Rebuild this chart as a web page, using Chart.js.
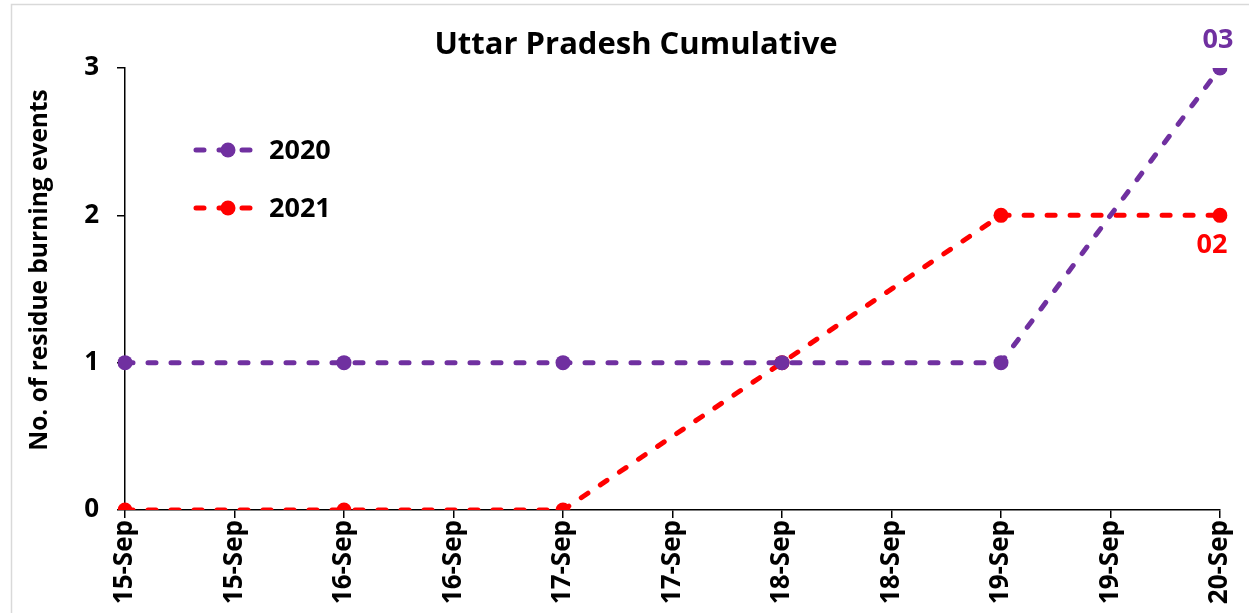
<!DOCTYPE html>
<html>
<head>
<meta charset="utf-8">
<script src="https://cdn.jsdelivr.net/npm/chart.js@4.4.0/dist/chart.umd.min.js"></script>
<style>
  html, body { margin: 0; padding: 0; background: #fff; }
  #wrap { position: relative; width: 1249px; height: 613px; }
</style>
</head>
<body>
<div id="wrap"><canvas id="upChart" width="1249" height="613"></canvas></div>
<script>
// Uttar Pradesh cumulative residue burning events
const dateLabels = ['15-Sep', '15-Sep', '16-Sep', '16-Sep', '17-Sep', '17-Sep', '18-Sep', '18-Sep', '19-Sep', '19-Sep', '20-Sep'];
const values2020 = [1, null, 1, null, 1, null, 1, null, 1, null, 3];
const values2021 = [0, null, 0, null, 0, null, 1, null, 2, null, 2];
const yTicks = [0, 1, 2, 3];
const endLabels = { '2020': '03', '2021': '02' };
const chartTitle = 'Uttar Pradesh Cumulative';
const yTitle = 'No. of residue burning events';

const PURPLE = '#7030A0';
const RED = '#FF0000';
const FONT = '"Open Sans", Lato, sans-serif';

const frameAndLegend = {
    id: 'frameAndLegend',
    beforeDraw(chart) {
        const ctx = chart.ctx;
        ctx.save();
        ctx.strokeStyle = '#d9d9d9';
        ctx.lineWidth = 1.5;
        ctx.strokeRect(11.5, 4.5, 1400, 800);
        // title
        ctx.fillStyle = '#000';
        ctx.font = 'bold 31px ' + FONT;
        ctx.textAlign = 'center';
        ctx.textBaseline = 'middle';
        ctx.fillText(chartTitle, 636, 45);
        // y axis title
        ctx.translate(40, 270);
        ctx.rotate(-Math.PI / 2);
        ctx.font = 'bold 24.5px ' + FONT;
        ctx.fillText(yTitle, 0, 0);
        ctx.restore();
    },
    afterDatasetsDraw(chart) {
        const ctx = chart.ctx;
        ctx.save();
        // legend inside plot
        chart.data.datasets.forEach((ds, i) => {
            const y = 150 + i * 58;
            ctx.strokeStyle = ds.borderColor;
            ctx.lineWidth = 5;
            ctx.lineCap = 'round';
            ctx.setLineDash([8, 15]);
            ctx.beginPath();
            ctx.moveTo(196, y);
            ctx.lineTo(258, y);
            ctx.stroke();
            ctx.setLineDash([]);
            ctx.fillStyle = ds.borderColor;
            ctx.beginPath();
            ctx.arc(228, y, 7.5, 0, Math.PI * 2);
            ctx.fill();
            ctx.fillStyle = '#000';
            ctx.font = 'bold 27px ' + FONT;
            ctx.textAlign = 'left';
            ctx.textBaseline = 'middle';
            ctx.fillText(ds.label, 269, y + 1);
        });
        // end value labels
        chart.data.datasets.forEach((ds, i) => {
            const meta = chart.getDatasetMeta(i);
            const pt = meta.data[meta.data.length - 1];
            const txt = endLabels[ds.label];
            if (!pt || !txt) return;
            ctx.fillStyle = ds.borderColor;
            ctx.font = 'bold 27px ' + FONT;
            ctx.textAlign = 'center';
            ctx.textBaseline = 'middle';
            const dy = ds.label === '2020' ? -28 : 30;
            ctx.fillText(txt, pt.x - (ds.label === '2020' ? 2 : 8), pt.y + dy);
        });
        ctx.restore();
    }
};

function makeSeries(label, data, color) {
    return {
        label: label,
        data: data,
        borderColor: color,
        backgroundColor: color,
        borderWidth: 5,
        borderDash: [8, 15],
        borderCapStyle: 'round',
        pointRadius: 7.5,
        pointHoverRadius: 7.5,
        pointBackgroundColor: color,
        pointBorderWidth: 0,
        spanGaps: true,
        tension: 0
    };
}

new Chart(document.getElementById('upChart').getContext('2d'), {
    type: 'line',
    data: {
        labels: dateLabels,
        datasets: [
            makeSeries('2020', values2020, PURPLE),
            makeSeries('2021', values2021, RED)
        ]
    },
    options: {
        responsive: false,
        animation: false,
        layout: { autoPadding: false, padding: { left: 0, right: 29, top: 68, bottom: 0 } },
        plugins: {
            legend: { display: false },
            tooltip: { enabled: false },
            title: { display: false }
        },
        scales: {
            x: {
                offset: false,
                border: { display: true, color: '#000', width: 1.5 },
                grid: { display: true, drawOnChartArea: false, drawTicks: true, tickLength: 8, color: '#000', lineWidth: 1.5 },
                ticks: {
                    autoSkip: false,
                    maxRotation: 90,
                    minRotation: 90,
                    color: '#000',
                    padding: 2,
                    font: { family: FONT, size: 26, weight: 'bold' }
                },
                afterFit(scale) {
                    scale.height = 103;
                    scale.paddingLeft = 0;
                    scale.paddingRight = 0;
                }
            },
            y: {
                min: 0,
                max: 3,
                afterBuildTicks(scale) { scale.ticks = yTicks.map(v => ({ value: v })); },
                border: { display: true, color: '#000', width: 1.5 },
                grid: { display: true, drawOnChartArea: false, drawTicks: true, tickLength: 8, color: '#000', lineWidth: 1.5 },
                ticks: {
                    color: '#000',
                    padding: 18,
                    font: { family: FONT, size: 26, weight: 'bold' }
                },
                afterFit(scale) {
                    scale.width = 125;
                    scale.paddingTop = 0;
                    scale.paddingBottom = 0;
                }
            }
        }
    },
    plugins: [frameAndLegend]
});
</script>
</body>
</html>
